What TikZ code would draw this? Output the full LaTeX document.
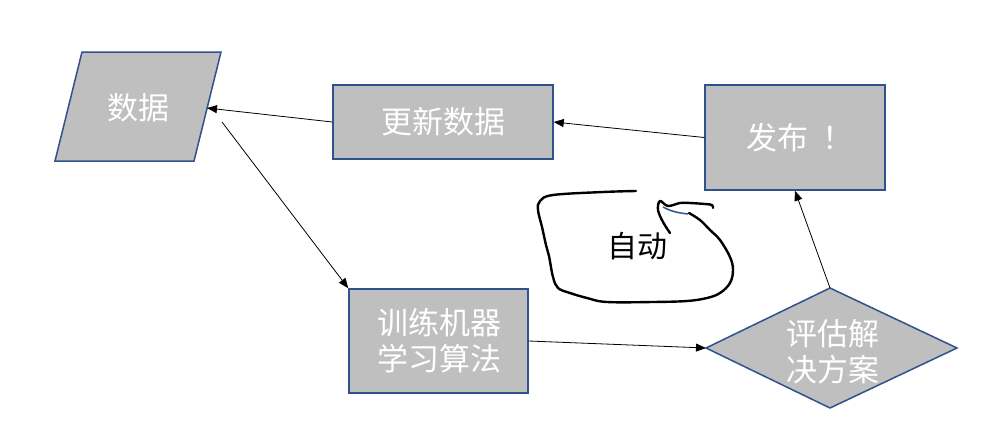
\documentclass[tikz,border=0pt]{standalone}
\usepackage{fontspec}
\setmainfont{Noto Sans CJK SC}
\usetikzlibrary{arrows.meta,calc}
\definecolor{boxfill}{HTML}{BFBFBF}
\definecolor{boxline}{HTML}{2F528F}
\tikzset{
  box/.style={draw=boxline,fill=boxfill,line width=1.5pt,inner sep=0pt},
  boxtext/.style={text=white,font=\fontsize{31}{36}\selectfont,align=center,inner sep=0pt},
  conn/.style={draw=black,line width=0.8pt,-{Triangle[length=10pt,width=8pt]}},
  hand/.style={draw=black,line width=2.4pt,line cap=round,line join=round}
}
\begin{document}
\begin{tikzpicture}[x=1pt,y=-1pt]
\useasboundingbox (0,0) rectangle (996,434);
% parallelogram (data)
\coordinate (d1) at (82,52);
\coordinate (d2) at (221,52);
\coordinate (d3) at (194,161);
\coordinate (d4) at (55,161);
\draw[box] (d1) -- (d2) -- (d3) -- (d4) -- cycle;
\node[boxtext] (data) at (138,108) {数据};
\coordinate (dataR) at (207,108);
\coordinate (dataOut) at (222,122);
% rectangles
\node[box,minimum width=220pt,minimum height=74pt] (upd) at (443,122) {};
\node[boxtext] (updt) at (443,122) {更新数据};
\node[box,minimum width=180pt,minimum height=105pt] (pub) at (795,137.5) {};
\node[boxtext] (pubt) at (800,138) {发布\kern14pt！};
\node[box,minimum width=179pt,minimum height=104pt] (train) at (438.5,341) {};
\node[boxtext] (traint) at (439,341) {训练机器\\学习算法};
% diamond
\coordinate (eL) at (706,348);
\coordinate (eT) at (830,288);
\coordinate (eR) at (957,348);
\coordinate (eB) at (830,408);
\draw[box] (eL) -- (eT) -- (eR) -- (eB) -- cycle;
\node[boxtext] (evalt) at (833,352) {评估解\\决方案};
% connectors
\draw[conn] (upd.west) -- (dataR);
\draw[conn] (dataOut) -- (train.north west);
\draw[conn] (pub.west) -- (upd.east);
\draw[conn] (train.east) -- (eL);
\draw[conn] (eT) -- (pub.south);
% hand-drawn loop
\draw[hand] plot[smooth,tension=0.6] coordinates {(636,191) (603,192) (553,195) (540,201) (538,210) (542,227) (546,245) (549,256) (553,277) (558,288) (570,293) (587,298) (607,302) (653,302) (687,301) (707,298) (720,293) (730,283) (733,270) (730,257) (720,240) (710,230) (700,220) (689,213)};
\draw[hand] plot[smooth,tension=0.6] coordinates {(670,233) (663,222) (658,210) (660,201) (668,206) (680,203) (690,203) (705,204) (712,205) (713,208)};
\draw[boxline,line width=1.5pt] (663,207) .. controls (672,212) and (680,213) .. (688,214);
\node[font=\fontsize{30}{34}\selectfont,inner sep=0pt] (auto) at (637,246) {自动};
\end{tikzpicture}
\end{document}
